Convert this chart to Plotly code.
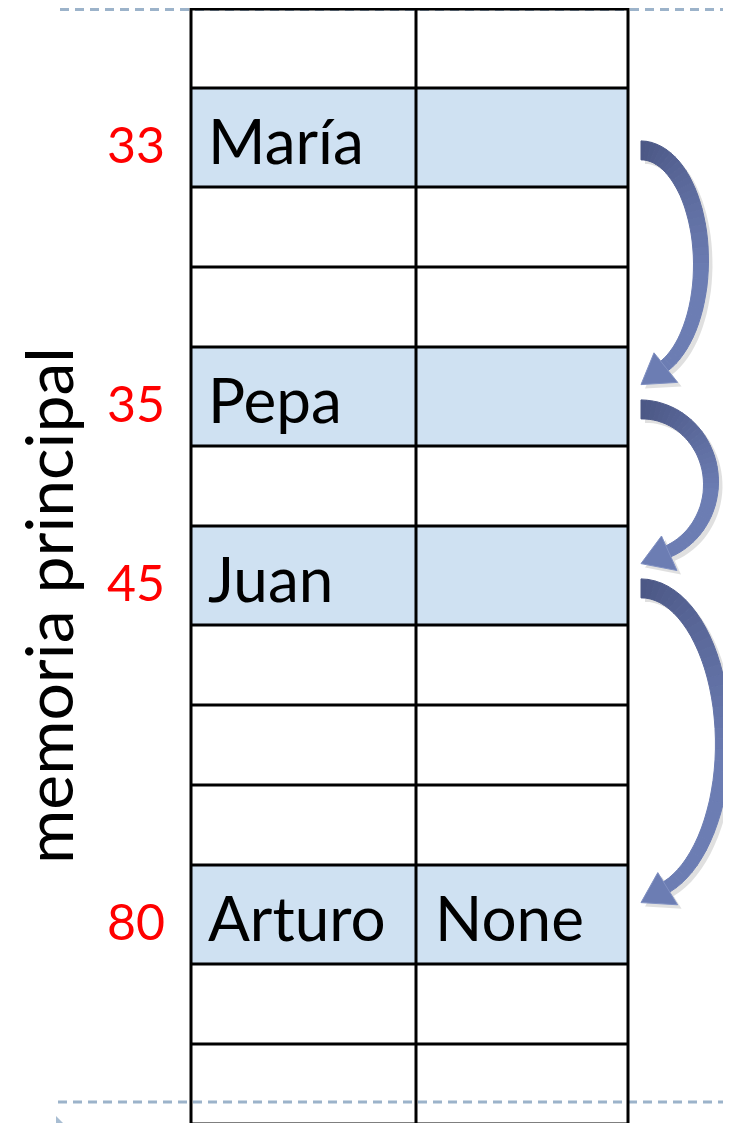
import math
import plotly.graph_objects as go

# ---------------- data ----------------
addresses = ["", "33", "", "", "35", "", "45", "", "", "", "80", "", ""]
names     = ["", "María", "", "", "Pepa", "", "Juan", "", "", "", "Arturo", "", ""]
next_ptr  = ["", "", "", "", "", "", "", "", "", "", "None", "", ""]
in_list   = [False, True, False, False, True, False, True, False, False, False, True, False, False]
axis_title = "memoria principal"
page_number = "15"

# ---------------- style ----------------
W, H = 731, 1123
OFF = 8             # page body margin of the browser
TOP = 8
ROW_H = 80          # empty cell height
ROW_H_USED = 99     # height of a cell that holds a node
X_LEFT, X_MID, X_RIGHT = 191, 416, 628
BLUE = "#cfe1f2"
ARROW_BULGE = [60, 70, 82]
ARROW_DARK = (0x4c, 0x58, 0x86)
ARROW_LIGHT = (0x6c, 0x7d, 0xb3)
DASH_COLOR = "#9cb3ca"

fig = go.Figure()

# row boundaries
bounds = [TOP]
for used in in_list:
    bounds.append(bounds[-1] + (ROW_H_USED if used else ROW_H))
centers = [(bounds[i] + bounds[i + 1]) / 2 for i in range(len(in_list))]

shapes = []
annotations = []

# dashed guide lines
shapes.append(dict(type="line", x0=60, x1=W + 5, y0=TOP + 1.5, y1=TOP + 1.5, xref="x", yref="y",
                   line=dict(color=DASH_COLOR, width=3, dash="9px,6px"), layer="below"))
shapes.append(dict(type="line", x0=58, x1=W + 5, y0=1102, y1=1102, xref="x", yref="y",
                   line=dict(color=DASH_COLOR, width=3, dash="9px,6px"), layer="below"))
shapes.append(dict(type="path", path="M 56 1116 L 63 1123 L 56 1123 Z", xref="x", yref="y",
                   fillcolor="#a8bdd2", line=dict(width=0)))

# highlighted cells
for i, used in enumerate(in_list):
    if used:
        shapes.append(dict(type="rect", x0=X_LEFT, x1=X_RIGHT, y0=bounds[i], y1=bounds[i + 1],
                           xref="x", yref="y", fillcolor=BLUE, line=dict(width=0), layer="below"))

# grid lines
for j, yb in enumerate(bounds):
    yy = yb + 1 if j == 0 else yb
    shapes.append(dict(type="line", x0=X_LEFT, x1=X_RIGHT, y0=yy, y1=yy, xref="x", yref="y",
                       line=dict(color="black", width=3)))
for xv in (X_LEFT, X_MID, X_RIGHT):
    shapes.append(dict(type="line", x0=xv, x1=xv, y0=TOP, y1=H + 5, xref="x", yref="y",
                       line=dict(color="black", width=3)))

# texts
for i in range(len(in_list)):
    if names[i]:
        annotations.append(dict(x=X_LEFT + 15, y=centers[i] + 2, text=names[i], showarrow=False,
                                xanchor="left", yanchor="middle", xref="x", yref="y",
                                font=dict(family="Lato", size=62, color="black")))
    if next_ptr[i]:
        annotations.append(dict(x=X_MID + 17, y=centers[i] + 2, text=next_ptr[i], showarrow=False,
                                xanchor="left", yanchor="middle", xref="x", yref="y",
                                font=dict(family="Lato", size=62, color="black")))
    if addresses[i]:
        annotations.append(dict(x=X_LEFT - 24, y=centers[i] + 6, text=addresses[i], showarrow=False,
                                xanchor="right", yanchor="middle", xref="x", yref="y",
                                font=dict(family="Lato", size=50, color="#ff0000")))

annotations.append(dict(x=47, y=606, text=axis_title, textangle=-90, showarrow=False,
                        xanchor="center", yanchor="middle", xref="x", yref="y", borderpad=0,
                        font=dict(family="Lato", size=66, color="black")))
annotations.append(dict(x=127, y=1134, text=page_number, showarrow=False,
                        xanchor="center", yanchor="middle", xref="x", yref="y",
                        font=dict(family="Lato", size=24, color="#3c3c50")))


# curved arrows between consecutive list nodes
def build_arrow(ys, ytip, a, xstart=641, hl=30, hw=21, w0=19, w1=12):
    def geom(b, phi_end):
        cx, cy = xstart, ys + b
        ex = cx + a * math.cos(phi_end)
        ey = cy + b * math.sin(phi_end)
        tx, ty = -a * math.sin(phi_end), b * math.cos(phi_end)
        n = math.hypot(tx, ty)
        tx, ty = tx / n, ty / n
        return cx, cy, ex, ey, tx, ty, ex + tx * hl, ey + ty * hl

    def phi_for(b):
        lo, hi = 0.0, math.pi / 2
        for _ in range(60):
            mid = (lo + hi) / 2
            if geom(b, mid)[6] > xstart:
                lo = mid
            else:
                hi = mid
        return (lo + hi) / 2

    lo, hi = 20.0, 400.0
    for _ in range(60):
        mid = (lo + hi) / 2
        if geom(mid, phi_for(mid))[7] < ytip:
            lo = mid
        else:
            hi = mid
    b = (lo + hi) / 2
    pe = phi_for(b)
    cx, cy, ex, ey, tx, ty, tipx, tipy = geom(b, pe)

    N = 40
    outer, inner = [], []
    for k in range(N + 1):
        f = k / N
        phi = -math.pi / 2 + f * (pe + math.pi / 2)
        px, py = cx + a * math.cos(phi), cy + b * math.sin(phi)
        dx, dy = -a * math.sin(phi), b * math.cos(phi)
        nn = math.hypot(dx, dy)
        nx, ny = dy / nn, -dx / nn
        w = (w0 + (w1 - w0) * f) / 2
        outer.append((px + nx * w, py + ny * w))
        inner.append((px - nx * w, py - ny * w))
    nx, ny = ty, -tx
    head = [(ex + nx * hw, ey + ny * hw), (tipx, tipy), (ex - nx * hw * 0.8, ey - ny * hw * 0.8)]
    return outer, inner, head


def col(f):
    f = min(1.0, f / 0.6)
    c = [int(ARROW_DARK[j] + (ARROW_LIGHT[j] - ARROW_DARK[j]) * f) for j in range(3)]
    return "rgb(%d,%d,%d)" % tuple(c)


linked = [i for i, u in enumerate(in_list) if u]
for k in range(len(linked) - 1):
    r0, r1 = linked[k], linked[k + 1]
    ys = bounds[r0] + 0.6 * (bounds[r0 + 1] - bounds[r0]) + 3
    ytip = bounds[r1] + 0.38 * (bounds[r1 + 1] - bounds[r1])
    outer, inner, head = build_arrow(ys, ytip, ARROW_BULGE[k])
    sh = 4
    spath = "M " + " L ".join("%.1f %.1f" % (x + sh, y + sh) for x, y in
                               outer + [head[0], head[1], head[2]] + inner[::-1]) + " Z"
    shapes.append(dict(type="path", path=spath, xref="x", yref="y",
                       fillcolor="rgba(0,0,0,0.12)", line=dict(width=0)))
    n = len(outer) - 1
    for s in range(n):
        q = [outer[s], outer[s + 1], inner[s + 1], inner[s]]
        p = "M " + " L ".join("%.1f %.1f" % pt for pt in q) + " Z"
        c = col(s / n)
        shapes.append(dict(type="path", path=p, xref="x", yref="y", fillcolor=c,
                           line=dict(color=c, width=1)))
    hp = "M " + " L ".join("%.1f %.1f" % pt for pt in head) + " Z"
    shapes.append(dict(type="path", path=hp, xref="x", yref="y", fillcolor=col(1.0),
                       line=dict(color="#8090c2", width=1)))

fig.update_layout(
    width=W - OFF, height=H - OFF, margin=dict(l=0, r=0, t=0, b=0),
    paper_bgcolor="white", plot_bgcolor="white",
    xaxis=dict(range=[OFF, W], visible=False, fixedrange=True),
    yaxis=dict(range=[H, OFF], visible=False, fixedrange=True),
    shapes=shapes, annotations=annotations, showlegend=False,
)
fig.write_html("out.html")
